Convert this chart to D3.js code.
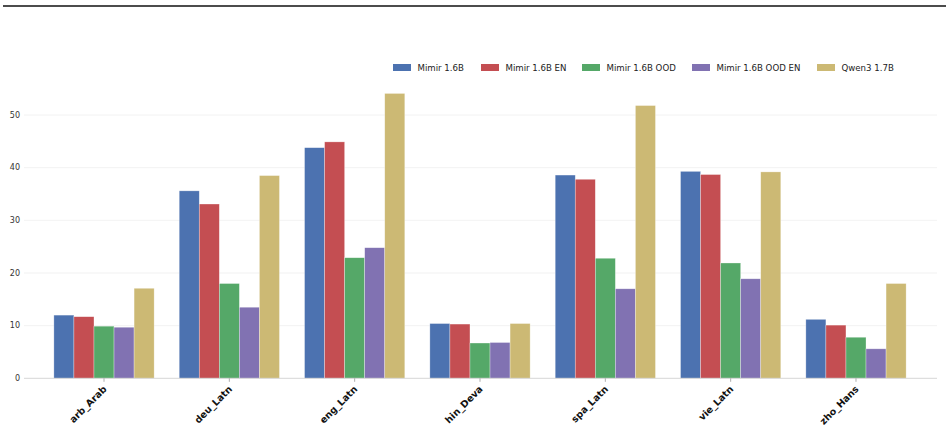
<!DOCTYPE html>
<html>
<head>
<meta charset="utf-8">
<script src="https://cdn.jsdelivr.net/npm/d3@7"></script>
<style>
  body { margin: 0; background: #fff; }
  svg { display: block; font-family: "DejaVu Sans", sans-serif; }
</style>
</head>
<body>
<svg id="chart" width="948" height="429"></svg>
<script>
// data
const languages = ["arb_Arab", "deu_Latn", "eng_Latn", "hin_Deva", "spa_Latn", "vie_Latn", "zho_Hans"];
const models = ["Mimir 1.6B", "Mimir 1.6B EN", "Mimir 1.6B OOD", "Mimir 1.6B OOD EN", "Qwen3 1.7B"];
const mimir = [12.0, 35.6, 43.8, 10.4, 38.6, 39.3, 11.2];
const mimirEn = [11.7, 33.1, 44.9, 10.3, 37.8, 38.7, 10.1];
const mimirOod = [9.9, 18.0, 22.9, 6.7, 22.8, 21.9, 7.8];
const mimirOodEn = [9.7, 13.5, 24.8, 6.8, 17.0, 18.9, 5.6];
const qwen = [17.1, 38.5, 54.1, 10.4, 51.8, 39.2, 18.0];
const yTicks = [0, 10, 20, 30, 40, 50];

const series = [mimir, mimirEn, mimirOod, mimirOodEn, qwen];
const colors = ["#4C72B0", "#C44E52", "#55A868", "#8172B2", "#CCB974"];

const svg = d3.select("#chart");

// top rule
svg.append("line")
  .attr("x1", 3).attr("x2", 946)
  .attr("y1", 6).attr("y2", 6)
  .attr("stroke", "#111")
  .attr("stroke-width", 1.3);

const axisLeft = 24, axisRight = 937;

const x = d3.scaleBand()
  .domain(languages)
  .range([41.35, 918.65])
  .paddingInner(0.2)
  .paddingOuter(0.1);

const xSub = d3.scaleBand()
  .domain(models)
  .range([0, x.bandwidth()]);

const y = d3.scaleLinear()
  .domain([0, 55])
  .range([378.3, 88.7]);

// gridlines
svg.append("g")
  .selectAll("line")
  .data(yTicks.filter(t => t > 0))
  .join("line")
  .attr("x1", axisLeft).attr("x2", axisRight)
  .attr("y1", d => y(d)).attr("y2", d => y(d))
  .attr("stroke", "#efefef")
  .attr("stroke-width", 0.8);

// y tick labels
svg.append("g")
  .selectAll("text")
  .data(yTicks)
  .join("text")
  .attr("x", 20)
  .attr("y", d => y(d))
  .attr("dy", "0.35em")
  .attr("text-anchor", "end")
  .attr("font-size", 8)
  .attr("fill", "#333")
  .text(d => d);

// bars
const rows = languages.map((lang, i) => ({ lang, values: series.map(s => s[i]) }));

svg.append("g")
  .selectAll("g")
  .data(rows)
  .join("g")
  .attr("transform", d => `translate(${x(d.lang)},0)`)
  .selectAll("rect")
  .data(d => d.values.map((v, j) => ({ model: models[j], value: v, color: colors[j] })))
  .join("rect")
  .attr("x", d => xSub(d.model))
  .attr("width", xSub.bandwidth())
  .attr("y", d => y(d.value))
  .attr("height", d => y(0) - y(d.value))
  .attr("fill", d => d.color)
  .attr("stroke", "#fff")
  .attr("stroke-opacity", 0.5)
  .attr("stroke-width", 0.6);

// x axis line and ticks
svg.append("line")
  .attr("x1", axisLeft).attr("x2", axisRight)
  .attr("y1", y(0)).attr("y2", y(0))
  .attr("stroke", "#d6d6d6")
  .attr("stroke-width", 1);

const xg = svg.append("g")
  .selectAll("g")
  .data(languages)
  .join("g")
  .attr("transform", d => `translate(${x(d) + x.bandwidth() / 2},${y(0)})`);

xg.append("line")
  .attr("y1", 0).attr("y2", 3.5)
  .attr("stroke", "#999")
  .attr("stroke-width", 0.8);

xg.append("text")
  .attr("transform", "translate(1,9) rotate(-45)")
  .attr("text-anchor", "end")
  .attr("dy", "0.35em")
  .attr("font-size", 9.5)
  .attr("font-weight", "bold")
  .attr("fill", "#111")
  .text(d => d);

// legend
const legendX = [393, 481, 582, 692, 817];
const legend = svg.append("g")
  .selectAll("g")
  .data(models)
  .join("g")
  .attr("transform", (d, i) => `translate(${legendX[i]},67.5)`);

legend.append("rect")
  .attr("x", 0).attr("y", -3.5)
  .attr("width", 18).attr("height", 7)
  .attr("fill", (d, i) => colors[i]);

legend.append("text")
  .attr("x", 24.5)
  .attr("dy", "0.35em")
  .attr("font-size", 8.6)
  .attr("fill", "#222")
  .text(d => d);
</script>
</body>
</html>
